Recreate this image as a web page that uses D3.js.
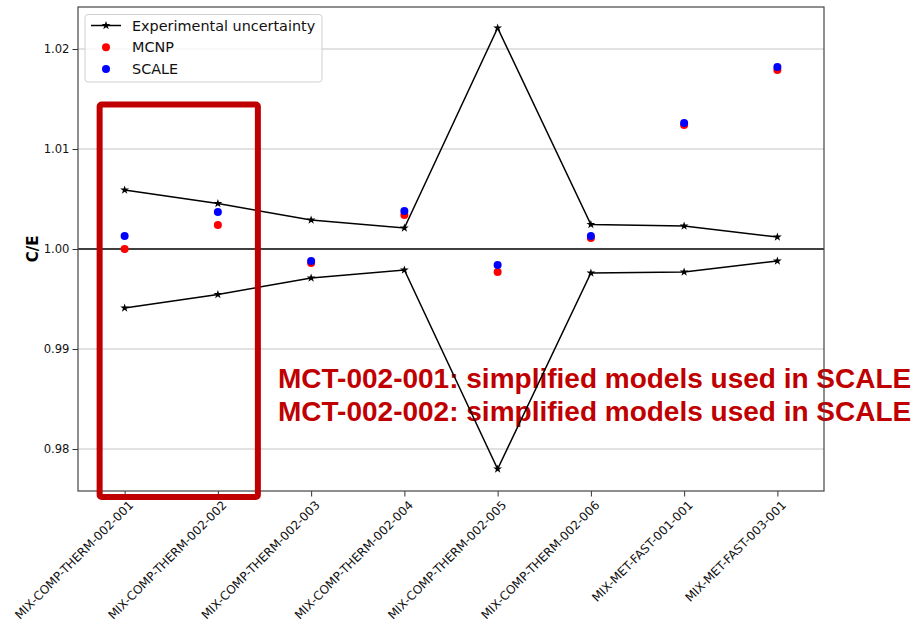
<!DOCTYPE html>
<html>
<head>
<meta charset="utf-8">
<script src="https://cdn.jsdelivr.net/npm/d3@7"></script>
<style>
  body { margin: 0; background: #fff; }
  svg { display: block; }
</style>
</head>
<body>
<svg id="chart"></svg>
<script>
// Benchmark cases on the x axis
const categories = [
  "MIX-COMP-THERM-002-001", "MIX-COMP-THERM-002-002", "MIX-COMP-THERM-002-003",
  "MIX-COMP-THERM-002-004", "MIX-COMP-THERM-002-005", "MIX-COMP-THERM-002-006",
  "MIX-MET-FAST-001-001", "MIX-MET-FAST-003-001"
];

// C/E values
const mcnp  = [1.0000, 1.0024, 0.9986, 1.0034, 0.9977, 1.0011, 1.0124, 1.0179];
const scale = [1.0013, 1.0037, 0.9988, 1.0038, 0.9984, 1.0013, 1.0126, 1.0182];

// experimental uncertainty band (upper and lower)
const upper = [1.0059, 1.00455, 1.0029, 1.0021, 1.0221, 1.00245, 1.0023, 1.0012];
const lower = [0.9941, 0.99545, 0.9971, 0.9979, 0.9780, 0.99760, 0.9977, 0.9988];

const yTicks = [0.98, 0.99, 1.00, 1.01, 1.02];

const noteLines = [
  "MCT-002-001: simplified models used in SCALE",
  "MCT-002-002: simplified models used in SCALE"
];

const W = 914, H = 625;
const margin = {top: 7, right: 90, bottom: 134, left: 78};
const width = W - margin.left - margin.right,
      height = H - margin.top - margin.bottom;

const svg = d3.select("#chart").attr("width", W).attr("height", H);
const g = svg.append("g").attr("transform", `translate(${margin.left},${margin.top})`);

// Scales
const x = d3.scalePoint().domain(categories).range([0, width]).padding(0.5);
const y = d3.scaleLinear().domain([0.9758, 1.0242]).range([height, 0]);

// Horizontal grid
g.append("g")
  .selectAll("line")
  .data(yTicks.filter(t => t !== 1.00))
  .enter().append("line")
  .attr("x1", 0).attr("x2", width)
  .attr("y1", d => y(d)).attr("y2", d => y(d))
  .attr("stroke", "#c4c4c4").attr("stroke-width", 1);

// Reference line at C/E = 1
g.append("line")
  .attr("x1", 0).attr("x2", width)
  .attr("y1", y(1)).attr("y2", y(1))
  .attr("stroke", "#000").attr("stroke-width", 1.5);

// Annotation text
const note = g.append("text")
  .attr("x", 200)
  .attr("y", y(0.98615))
  .style("font-family", "'Liberation Sans', Arial, sans-serif")
  .style("font-weight", "bold")
  .style("font-size", "28px")
  .attr("fill", "#c00000");
note.selectAll("tspan")
  .data(noteLines)
  .enter().append("tspan")
  .attr("x", 200)
  .attr("dy", (d, i) => i === 0 ? 0 : 33)
  .text(d => d);

// Axes
const xAxis = g.append("g")
  .attr("transform", `translate(0,${height})`)
  .call(d3.axisBottom(x).tickSize(5.5).tickPadding(3));

const yAxis = g.append("g")
  .call(d3.axisLeft(y).tickValues(yTicks).tickFormat(d3.format(".2f")).tickSize(5.5).tickPadding(3));

[xAxis, yAxis].forEach(a => {
  a.select(".domain").remove();
  a.selectAll("line").attr("stroke", "#333").attr("stroke-width", 1);
  a.selectAll("text")
    .style("font-family", "'DejaVu Sans', sans-serif")
    .style("font-size", "11.6px")
    .attr("fill", "#111");
});

xAxis.selectAll("text")
  .attr("transform", "translate(-3,3) rotate(-45)")
  .style("text-anchor", "end")
  .style("font-size", "12px")
  .attr("dy", "0.7em");

// Frame
g.append("rect")
  .attr("x", 0).attr("y", 0)
  .attr("width", width).attr("height", height)
  .attr("fill", "none")
  .attr("stroke", "#444").attr("stroke-width", 1.2);

// Y axis label
svg.append("text")
  .attr("transform", `translate(38,${margin.top + y(1)}) rotate(-90)`)
  .attr("text-anchor", "middle")
  .style("font-family", "'DejaVu Sans', sans-serif")
  .style("font-weight", "bold")
  .style("font-size", "15px")
  .text("C/E");

// Uncertainty lines with star markers
const line = d3.line().x((d, i) => x(categories[i])).y(d => y(d));
const star = d3.symbol().type(d3.symbolStar).size(24);

[upper, lower].forEach(series => {
  g.append("path")
    .datum(series)
    .attr("d", line)
    .attr("fill", "none")
    .attr("stroke", "#000")
    .attr("stroke-width", 1.5);
  g.selectAll(null)
    .data(series)
    .enter().append("path")
    .attr("d", star)
    .attr("transform", (d, i) => `translate(${x(categories[i])},${y(d)})`)
    .attr("fill", "#000");
});

// Result dots
[[mcnp, "#ff0000"], [scale, "#0000ff"]].forEach(([series, color]) => {
  g.selectAll(null)
    .data(series)
    .enter().append("circle")
    .attr("cx", (d, i) => x(categories[i]))
    .attr("cy", d => y(d))
    .attr("r", 4)
    .attr("fill", color);
});

// Legend
const legend = g.append("g").attr("transform", "translate(7,7.5)");
legend.append("rect")
  .attr("width", 237).attr("height", 67.5)
  .attr("rx", 3)
  .attr("fill", "#fff").attr("fill-opacity", 0.8)
  .attr("stroke", "#d0d0d0");
const legendItems = [
  {label: "Experimental uncertainty", type: "line"},
  {label: "MCNP", type: "dot", color: "#ff0000"},
  {label: "SCALE", type: "dot", color: "#0000ff"}
];
legendItems.forEach((item, i) => {
  const row = legend.append("g").attr("transform", `translate(0,${11 + i * 21.7})`);
  if (item.type === "line") {
    row.append("line").attr("x1", 6).attr("x2", 36)
      .attr("stroke", "#000").attr("stroke-width", 1.5);
    row.append("path").attr("d", star).attr("transform", "translate(21,0)");
  } else {
    row.append("circle").attr("cx", 21).attr("r", 4).attr("fill", item.color);
  }
  row.append("text")
    .attr("x", 47).attr("dy", "0.35em")
    .style("font-family", "'DejaVu Sans', sans-serif")
    .style("font-size", "14.4px")
    .attr("fill", "#111")
    .text(item.label);
});

// Highlight box around the first two cases
const box = {x0: x(categories[0]) - 25, x1: x(categories[1]) + 40, y0: 1.01445, y1: 0.9752};
g.append("rect")
  .attr("x", box.x0).attr("y", y(box.y0))
  .attr("width", box.x1 - box.x0)
  .attr("height", y(box.y1) - y(box.y0))
  .attr("rx", 2)
  .attr("fill", "none")
  .attr("stroke", "#c00000")
  .attr("stroke-width", 6);
</script>
</body>
</html>
